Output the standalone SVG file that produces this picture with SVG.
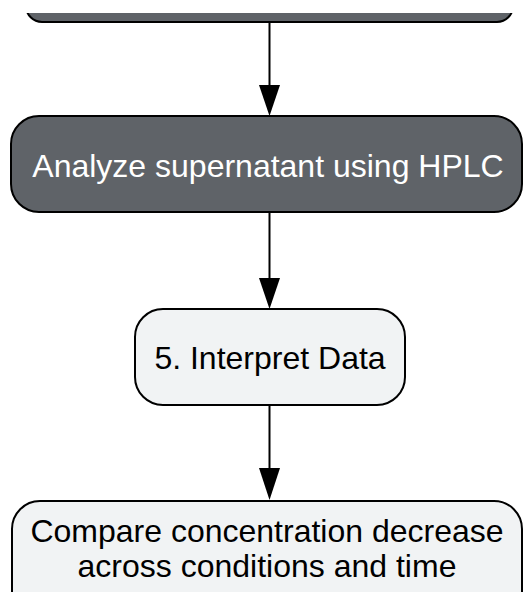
<svg xmlns="http://www.w3.org/2000/svg" width="525" height="592" viewBox="0 0 525 592">
  <style>
    .dark rect { fill: #5f6368; stroke: #000; stroke-width: 2; }
    .light rect { fill: #f1f3f4; stroke: #000; stroke-width: 2; }
    text { font-family: "Liberation Sans", Arial, sans-serif; font-size: 32px; text-anchor: middle; }
    .dark text { fill: #ffffff; }
    .light text { fill: #000000; }
    .conn line { stroke: #000; stroke-width: 2; }
    .conn path { fill: #000; }
  </style>
  <defs>
    <clipPath id="topclip">
      <rect x="0" y="13" width="525" height="40"/>
    </clipPath>
  </defs>
  <rect x="0" y="0" width="525" height="592" fill="#ffffff"/>

  <g id="node-prev" class="dark" clip-path="url(#topclip)">
    <rect x="26" y="-40" width="487" height="62" rx="16" ry="16"/>
  </g>

  <g id="node-hplc" class="dark">
    <rect x="11" y="116" width="511" height="96" rx="28" ry="28"/>
    <text x="268" y="177">Analyze supernatant using HPLC</text>
  </g>

  <g id="node-interpret" class="light">
    <rect x="135" y="309" width="270" height="96" rx="28" ry="28"/>
    <text x="270" y="369">5. Interpret Data</text>
  </g>

  <g id="node-compare" class="light">
    <rect x="12" y="501" width="510" height="120" rx="28" ry="28"/>
    <text x="267" y="542">Compare concentration decrease</text>
    <text x="267" y="577">across conditions and time</text>
  </g>

  <g id="connectors" class="conn">
    <line x1="269.5" y1="22" x2="269.5" y2="86"/>
    <path d="M259 85 L280 85 L269.5 116 Z"/>
    <line x1="269.5" y1="212" x2="269.5" y2="279"/>
    <path d="M259 278 L280 278 L269.5 309 Z"/>
    <line x1="269.5" y1="405" x2="269.5" y2="469"/>
    <path d="M259 468 L280 468 L269.5 500 Z"/>
  </g>
</svg>
